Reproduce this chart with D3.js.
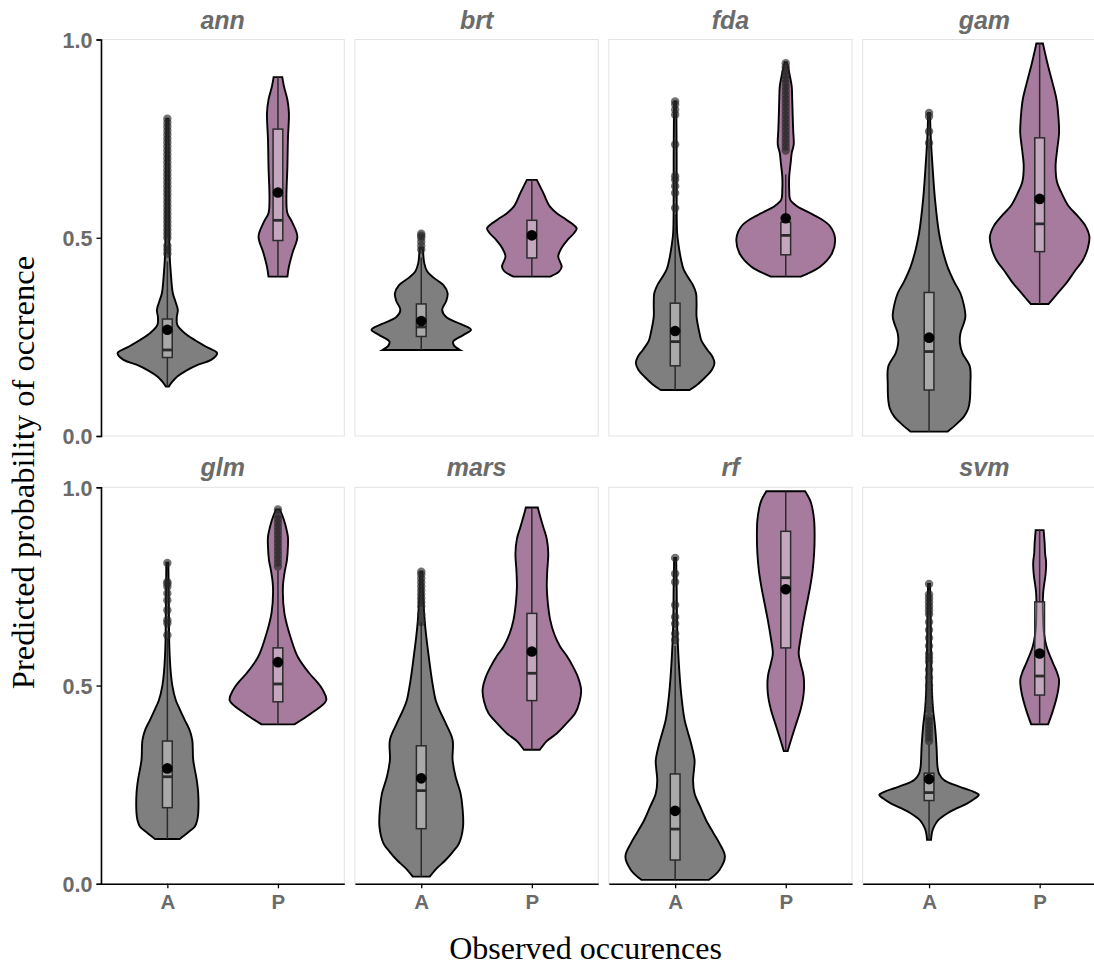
<!DOCTYPE html>
<html>
<head>
<meta charset="utf-8">
<script src="https://cdn.jsdelivr.net/npm/d3@7"></script>
<style>
  body { margin: 0; background: #fff; }
  svg { display: block; }
</style>
</head>
<body>
<svg id="chart" width="1094" height="966"></svg>
<script>
// models in facet order, classes on the x axis
var models = ['ann', 'brt', 'fda', 'gam', 'glm', 'mars', 'rf', 'svm'];
var classes = ['A', 'P'];
var yTicks = [0, 0.5, 1];

// violin outlines, [probability, relative half width], bottom to top
var violinA = [
  [[0.125,0.03],[0.137,0.1],[0.15,0.2],[0.165,0.38],[0.18,0.62],[0.192,0.88],[0.209,1.0],[0.225,0.78],[0.242,0.55],[0.259,0.35],[0.28,0.2],[0.30,0.19],[0.318,0.21],[0.34,0.16],[0.36,0.11],[0.41,0.07],[0.46,0.045],[0.55,0.035],[0.65,0.03],[0.75,0.025],[0.80,0.02]],
  [[0.217,0.78],[0.228,0.66],[0.238,0.64],[0.255,0.85],[0.268,1.0],[0.282,0.8],[0.30,0.5],[0.318,0.42],[0.34,0.5],[0.36,0.53],[0.38,0.45],[0.40,0.24],[0.415,0.12],[0.436,0.06],[0.46,0.04],[0.475,0.03]],
  [[0.116,0.29],[0.13,0.45],[0.15,0.62],[0.167,0.74],[0.184,0.79],[0.2,0.75],[0.217,0.65],[0.24,0.53],[0.259,0.49],[0.301,0.43],[0.33,0.43],[0.36,0.42],[0.38,0.36],[0.402,0.25],[0.42,0.17],[0.444,0.12],[0.48,0.07],[0.512,0.04],[0.6,0.03],[0.7,0.03],[0.8,0.025],[0.844,0.02]],
  [[0.011,0.37],[0.03,0.55],[0.049,0.7],[0.07,0.79],[0.091,0.82],[0.13,0.83],[0.175,0.82],[0.209,0.67],[0.235,0.62],[0.259,0.63],[0.285,0.7],[0.301,0.73],[0.33,0.7],[0.36,0.63],[0.39,0.5],[0.427,0.37],[0.47,0.27],[0.512,0.2],[0.596,0.12],[0.68,0.07],[0.764,0.03],[0.815,0.02]],
  [[0.113,0.25],[0.13,0.42],[0.144,0.55],[0.16,0.6],[0.178,0.62],[0.228,0.62],[0.262,0.59],[0.312,0.52],[0.363,0.5],[0.39,0.44],[0.413,0.35],[0.44,0.25],[0.463,0.17],[0.5,0.1],[0.531,0.07],[0.598,0.04],[0.7,0.03],[0.81,0.02]],
  [[0.018,0.17],[0.04,0.32],[0.06,0.49],[0.08,0.63],[0.102,0.76],[0.144,0.84],[0.19,0.83],[0.228,0.79],[0.27,0.69],[0.312,0.63],[0.363,0.63],[0.405,0.49],[0.44,0.36],[0.463,0.29],[0.51,0.22],[0.564,0.16],[0.648,0.08],[0.72,0.04],[0.787,0.02]],
  [[0.01,0.68],[0.035,0.89],[0.069,1.0],[0.102,0.89],[0.13,0.76],[0.161,0.62],[0.195,0.5],[0.228,0.39],[0.26,0.36],[0.29,0.38],[0.312,0.39],[0.354,0.32],[0.385,0.25],[0.413,0.19],[0.48,0.12],[0.564,0.07],[0.65,0.04],[0.75,0.03],[0.822,0.02]],
  [[0.111,0.04],[0.13,0.06],[0.144,0.1],[0.16,0.18],[0.178,0.37],[0.19,0.55],[0.203,0.77],[0.215,0.92],[0.224,1.0],[0.232,0.9],[0.241,0.7],[0.25,0.5],[0.262,0.3],[0.278,0.2],[0.295,0.17],[0.346,0.15],[0.396,0.12],[0.44,0.08],[0.48,0.06],[0.55,0.045],[0.65,0.035],[0.756,0.02]]
];
var violinP = [
  [[0.402,0.19],[0.427,0.22],[0.461,0.29],[0.503,0.39],[0.538,0.29],[0.562,0.19],[0.596,0.17],[0.68,0.19],[0.747,0.2],[0.815,0.22],[0.848,0.19],[0.882,0.12],[0.905,0.087]],
  [[0.402,0.37],[0.415,0.55],[0.427,0.6],[0.453,0.53],[0.475,0.6],[0.495,0.72],[0.512,0.85],[0.524,0.9],[0.545,0.7],[0.562,0.5],[0.579,0.36],[0.613,0.23],[0.646,0.1]],
  [[0.402,0.3],[0.427,0.69],[0.461,0.93],[0.499,0.99],[0.529,0.89],[0.548,0.7],[0.562,0.49],[0.58,0.22],[0.596,0.09],[0.62,0.07],[0.655,0.07],[0.69,0.1],[0.714,0.12],[0.735,0.16],[0.77,0.15],[0.806,0.14],[0.85,0.13],[0.882,0.12],[0.91,0.08],[0.933,0.04],[0.943,0.02]],
  [[0.333,0.18],[0.36,0.36],[0.386,0.54],[0.415,0.7],[0.444,0.87],[0.475,0.97],[0.503,1.0],[0.53,0.92],[0.554,0.77],[0.58,0.58],[0.613,0.44],[0.64,0.35],[0.68,0.32],[0.72,0.35],[0.764,0.39],[0.8,0.38],[0.848,0.34],[0.89,0.26],[0.933,0.17],[0.965,0.11],[0.99,0.066]],
  [[0.402,0.33],[0.43,0.67],[0.463,0.97],[0.489,0.9],[0.51,0.78],[0.531,0.63],[0.572,0.4],[0.615,0.27],[0.682,0.13],[0.749,0.1],[0.79,0.14],[0.816,0.18],[0.85,0.2],[0.875,0.2],[0.905,0.15],[0.925,0.1],[0.944,0.04]],
  [[0.338,0.16],[0.36,0.3],[0.379,0.5],[0.405,0.7],[0.43,0.87],[0.46,0.96],[0.489,0.99],[0.52,0.93],[0.547,0.83],[0.575,0.7],[0.598,0.57],[0.63,0.45],[0.665,0.37],[0.71,0.32],[0.749,0.3],[0.79,0.31],[0.833,0.33],[0.87,0.3],[0.9,0.23],[0.93,0.16],[0.949,0.12]],
  [[0.335,0.04],[0.36,0.1],[0.396,0.19],[0.44,0.3],[0.48,0.36],[0.522,0.36],[0.555,0.3],[0.581,0.26],[0.62,0.3],[0.665,0.36],[0.71,0.43],[0.749,0.49],[0.79,0.54],[0.833,0.57],[0.88,0.58],[0.917,0.57],[0.95,0.53],[0.967,0.49],[0.99,0.39]],
  [[0.402,0.17],[0.438,0.27],[0.48,0.36],[0.514,0.39],[0.536,0.34],[0.556,0.27],[0.598,0.14],[0.63,0.09],[0.665,0.07],[0.732,0.07],[0.782,0.12],[0.81,0.13],[0.833,0.11],[0.86,0.1],[0.892,0.08]]
];

// box stats: [lower whisker, q1, median, q3, upper whisker, mean]
var boxA = [
  [0.125,0.198,0.217,0.295,0.44,0.268],
  [0.217,0.251,0.275,0.333,0.45,0.29],
  [0.116,0.177,0.238,0.335,0.56,0.265],
  [0.011,0.116,0.213,0.362,0.73,0.248],
  [0.113,0.192,0.27,0.36,0.62,0.291],
  [0.018,0.139,0.235,0.348,0.66,0.266],
  [0.01,0.06,0.138,0.277,0.60,0.184],
  [0.111,0.210,0.23,0.279,0.35,0.264]
];
var boxP = [
  [0.402,0.493,0.544,0.774,0.905,0.614],
  [0.402,0.449,0.50,0.544,0.646,0.506],
  [0.402,0.457,0.506,0.539,0.66,0.549],
  [0.333,0.465,0.535,0.752,0.99,0.598],
  [0.402,0.459,0.504,0.595,0.79,0.559],
  [0.338,0.462,0.531,0.682,0.949,0.586],
  [0.335,0.595,0.772,0.889,0.99,0.743],
  [0.402,0.476,0.524,0.711,0.892,0.581]
];

// outliers beyond the whiskers
var outliersA = [
  [0.46,0.47,0.48,0.50,0.51,0.52,0.53,0.54,0.55,0.56,0.57,0.58,0.59,0.60,0.61,0.62,0.63,0.64,0.65,0.66,0.67,0.68,0.69,0.70,0.71,0.72,0.73,0.74,0.75,0.76,0.77,0.78,0.79,0.80],
  [0.47,0.48,0.49,0.50,0.505,0.51],
  [0.575,0.613,0.63,0.646,0.655,0.735,0.81,0.823,0.836,0.844],
  [0.739,0.768,0.806,0.815],
  [0.627,0.657,0.665,0.69,0.715,0.732,0.749,0.757,0.761,0.809],
  [0.66,0.68,0.70,0.71,0.72,0.73,0.74,0.75,0.76,0.77,0.78,0.787],
  [0.615,0.631,0.656,0.673,0.703,0.761,0.782,0.822],
  [0.36,0.37,0.38,0.39,0.40,0.41,0.42,0.44,0.46,0.48,0.50,0.52,0.54,0.56,0.57,0.58,0.60,0.62,0.64,0.66,0.68,0.69,0.70,0.71,0.72,0.73,0.756]
];
var outliersP = [
  [],
  [],
  [0.72,0.73,0.74,0.75,0.76,0.77,0.78,0.79,0.80,0.81,0.82,0.83,0.84,0.85,0.86,0.87,0.88,0.89,0.90,0.91,0.92,0.93,0.94],
  [],
  [0.80,0.81,0.82,0.83,0.84,0.85,0.86,0.87,0.88,0.89,0.90,0.91,0.92,0.93,0.944],
  [],
  [],
  []
];

var fills = {A: '#7f7f7f', P: '#a77b9e'};
var grey = '#6b6b6b';

var svg = d3.select('#chart');
var marginLeft = 101, marginTop = 39.5, panelW = 243.3, panelH = 396.5, gapX = 10.6, gapY = 51.3;
var nCol = 4;

var x = d3.scalePoint().domain(classes).range([0, panelW]).padding(0.6);
var y = d3.scaleLinear().domain([0, 1]).range([panelH, 0]);
var halfMax = x.step() * 0.45;
var boxHalf = x.step() * 0.044;

models.forEach(function(m, i) {
  var col = i % nCol, row = Math.floor(i / nCol);
  var g = svg.append('g')
    .attr('transform', 'translate(' + (marginLeft + col * (panelW + gapX)) + ',' + (marginTop + row * (panelH + gapY)) + ')');

  // panel border
  g.append('rect')
    .attr('width', panelW).attr('height', panelH)
    .attr('fill', 'none').attr('stroke', '#e3e3e3').attr('stroke-width', 1);

  // strip title
  g.append('text')
    .attr('x', panelW / 2).attr('y', -11)
    .attr('text-anchor', 'middle')
    .attr('font-family', 'Liberation Sans, Arial, sans-serif')
    .attr('font-weight', 'bold').attr('font-style', 'italic')
    .attr('font-size', 25).attr('fill', grey)
    .text(m);

  var groups = [
    {cls: 'A', shape: violinA[i], box: boxA[i], out: outliersA[i]},
    {cls: 'P', shape: violinP[i], box: boxP[i], out: outliersP[i]}
  ];

  groups.forEach(function(d) {
    var cx = x(d.cls);
    var area = d3.area()
      .curve(d3.curveCatmullRom)
      .y(function(p) { return y(p[0]); })
      .x0(function(p) { return cx - p[1] * halfMax; })
      .x1(function(p) { return cx + p[1] * halfMax; });

    g.append('path')
      .attr('d', area(d.shape))
      .attr('fill', fills[d.cls])
      .attr('stroke', '#000').attr('stroke-width', 1.9);

    var b = d.box;
    // whiskers
    g.append('line')
      .attr('x1', cx).attr('x2', cx).attr('y1', y(b[0])).attr('y2', y(b[1]))
      .attr('stroke', '#2b2b2b').attr('stroke-width', 1.5);
    g.append('line')
      .attr('x1', cx).attr('x2', cx).attr('y1', y(b[3])).attr('y2', y(b[4]))
      .attr('stroke', '#2b2b2b').attr('stroke-width', 1.5);
    // box
    g.append('rect')
      .attr('x', cx - boxHalf).attr('width', boxHalf * 2)
      .attr('y', y(b[3])).attr('height', y(b[1]) - y(b[3]))
      .attr('fill', '#fff').attr('fill-opacity', 0.33)
      .attr('stroke', '#2b2b2b').attr('stroke-width', 1.5);
    g.append('line')
      .attr('x1', cx - boxHalf).attr('x2', cx + boxHalf)
      .attr('y1', y(b[2])).attr('y2', y(b[2]))
      .attr('stroke', '#2b2b2b').attr('stroke-width', 2.8);

    g.selectAll(null).data(d.out).enter().append('circle')
      .attr('cx', cx).attr('cy', function(v) { return y(v); })
      .attr('r', 4.2)
      .attr('fill', '#262626').attr('fill-opacity', 0.65);

    // mean
    g.append('circle')
      .attr('cx', cx).attr('cy', y(b[5])).attr('r', 5.3).attr('fill', '#000');
  });

  // y axis on the left column
  if (col === 0) {
    var ya = g.append('g').call(d3.axisLeft(y).tickValues(yTicks).tickFormat(d3.format('.1f')).tickSize(4.5).tickPadding(4));
    ya.select('.domain').attr('stroke', '#000').attr('stroke-width', 1.6);
    ya.selectAll('.tick line').attr('stroke', '#000').attr('stroke-width', 1.3);
    ya.selectAll('.tick text')
      .attr('font-family', 'Liberation Sans, Arial, sans-serif')
      .attr('font-weight', 'bold').attr('font-size', 21.5).attr('fill', grey)
      .attr('dy', '0.36em');
  }
  // x axis on the bottom row
  if (row === 1) {
    var xa = g.append('g').attr('transform', 'translate(0,' + panelH + ')')
      .call(d3.axisBottom(x).tickSize(4.5).tickPadding(6).tickSizeOuter(0));
    xa.select('.domain').attr('stroke', '#000').attr('stroke-width', 1.6);
    xa.selectAll('.tick line').attr('stroke', '#000').attr('stroke-width', 1.3);
    xa.selectAll('.tick text')
      .attr('font-family', 'Liberation Sans, Arial, sans-serif')
      .attr('font-weight', 'bold').attr('font-size', 20.5).attr('fill', grey);
  }
});

// axis titles
svg.append('text')
  .attr('transform', 'translate(34,472.5) rotate(-90)')
  .attr('text-anchor', 'middle')
  .attr('font-family', 'Liberation Serif, Times New Roman, serif')
  .attr('font-size', 32.6).attr('fill', '#000')
  .text('Predicted probability of occrence');

svg.append('text')
  .attr('x', 585.5).attr('y', 959)
  .attr('text-anchor', 'middle')
  .attr('font-family', 'Liberation Serif, Times New Roman, serif')
  .attr('font-size', 32).attr('fill', '#000')
  .text('Observed occurences');
</script>
</body>
</html>
